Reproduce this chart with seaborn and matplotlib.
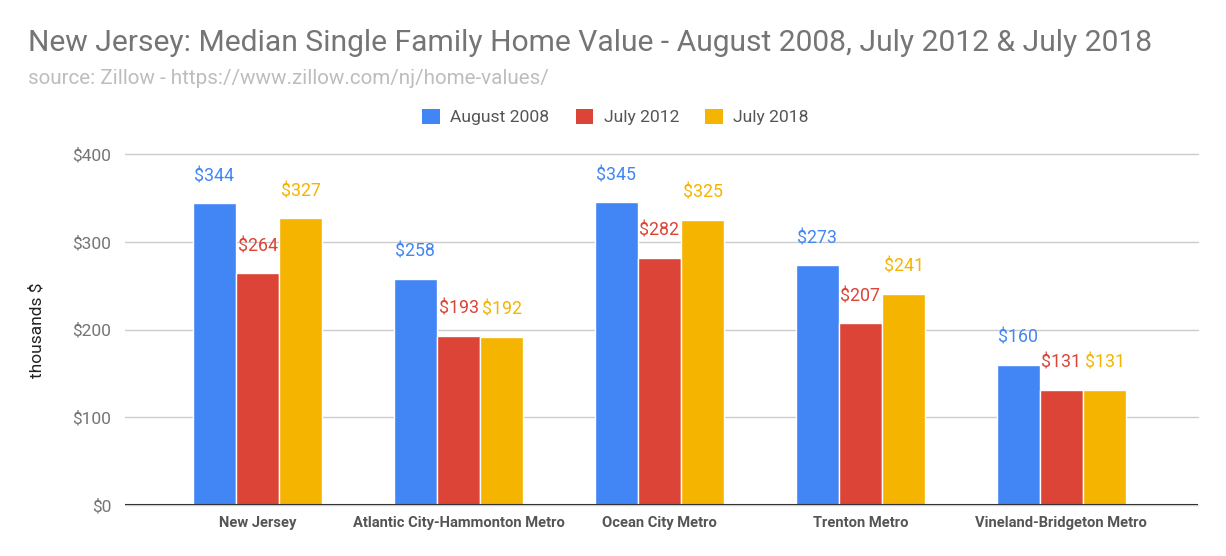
import pandas as pd
import matplotlib.pyplot as plt
import seaborn as sns

# Data (thousands of $)
regions = ["New Jersey", "Atlantic City-Hammonton Metro", "Ocean City Metro",
           "Trenton Metro", "Vineland-Bridgeton Metro"]
periods = ["August 2008", "July 2012", "July 2018"]
aug_2008 = [344, 258, 345, 273, 160]
jul_2012 = [264, 193, 282, 207, 131]
jul_2018 = [327, 192, 325, 241, 131]
y_ticks = [0, 100, 200, 300, 400]

colors = ['#4285F4', '#DB4437', '#F4B400']

df = pd.DataFrame({
    'region': regions * 3,
    'period': [periods[0]] * 5 + [periods[1]] * 5 + [periods[2]] * 5,
    'value': aug_2008 + jul_2012 + jul_2018,
})

sns.set_style('white')
plt.rcParams['font.family'] = ['Roboto', 'DejaVu Sans']

fig = plt.figure(figsize=(12.26, 5.56), dpi=100)
ax = fig.add_axes([125 / 1226, 51 / 556, (1198 - 125) / 1226, 351 / 556])

sns.barplot(data=df, x='region', y='value', hue='period', palette=colors,
            width=0.645, edgecolor='white', linewidth=1, saturation=1,
            ax=ax, legend=False)

# value labels above bars
for k, cont in enumerate(ax.containers):
    texts = ax.bar_label(cont, fmt='${:.0f}', padding=13, fontsize=12.8)
    for t in texts:
        t.set_color(colors[k])

ax.set_xlim(-0.66, 4.68)
ax.set_ylim(0, 400)
ax.set_yticks(y_ticks)
ax.set_yticklabels([f'${v}' for v in y_ticks], fontsize=12.5, color='#757575')
ax.tick_params(axis='y', length=0, pad=10)
ax.tick_params(axis='x', length=0, pad=8)
for lbl in ax.get_xticklabels():
    lbl.set_fontweight('bold')
    lbl.set_fontsize(10.6)
    lbl.set_color('#555555')
ax.set_xlabel('')
ax.set_ylabel('')
ax.grid(axis='y', color='#CCCCCC', linewidth=1, clip_on=False)
ax.set_axisbelow(True)
for s in ax.spines.values():
    s.set_visible(False)
ax.axhline(0, color='#333333', linewidth=1.5, zorder=5)

# legend
handles = [plt.Rectangle((0, 0), 1, 1, facecolor=c, edgecolor='none') for c in colors]
fig.legend(handles, periods, loc='center', bbox_to_anchor=(0.502, 1 - 117 / 556),
           ncol=3, frameon=False, fontsize=12.6, handlelength=1.0, handleheight=1.0,
           columnspacing=1.5, handletextpad=0.6, labelcolor='#555555')

fig.text(28 / 1226, 1 - 43 / 556, 'New Jersey: Median Single Family Home Value - '
         'August 2008, July 2012 & July 2018', fontsize=21.6, color='#757575',
         ha='left', va='center')
fig.text(28 / 1226, 1 - 78 / 556, 'source: Zillow - https://www.zillow.com/nj/home-values/',
         fontsize=14.9, color='#BDBDBD', ha='left', va='center')
fig.text(37 / 1226, 1 - 330 / 556, 'thousands $', rotation=90, fontsize=12.5,
         color='#222222', ha='center', va='center')

fig.savefig('out.png', dpi=100, facecolor='white')
